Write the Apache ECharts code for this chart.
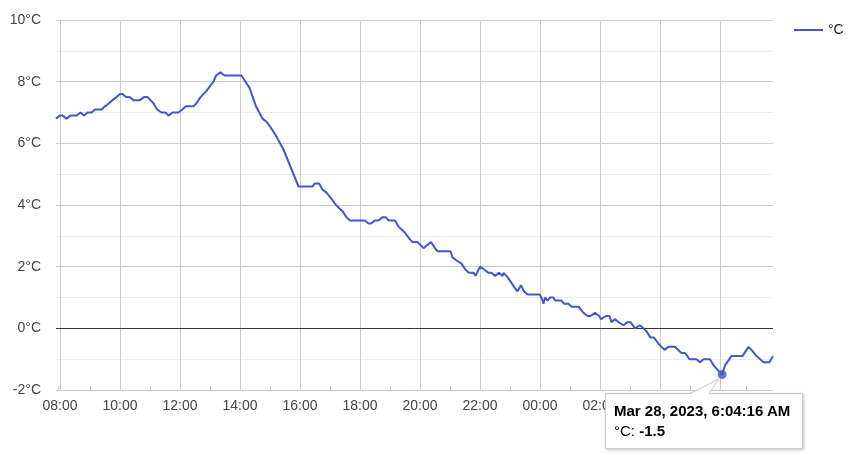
<!DOCTYPE html>
<html>
<head>
<meta charset="utf-8">
<script src="https://cdn.jsdelivr.net/npm/echarts@6/dist/echarts.min.js"></script>
<style>
html,body{margin:0;padding:0;background:#fff;}
#chart{width:848px;height:455px;}
</style>
</head>
<body>
<div id="chart"></div>
<script>
// ---- data ----
var times = [
'2023-03-27 07:52:00','2023-03-27 08:00:00','2023-03-27 08:05:00','2023-03-27 08:13:00','2023-03-27 08:21:00',
'2023-03-27 08:33:00','2023-03-27 08:41:00','2023-03-27 08:48:00','2023-03-27 08:55:00','2023-03-27 09:03:00',
'2023-03-27 09:10:00','2023-03-27 09:23:00','2023-03-27 09:30:00','2023-03-27 09:38:00','2023-03-27 09:45:00',
'2023-03-27 09:53:00','2023-03-27 10:00:00','2023-03-27 10:05:00','2023-03-27 10:12:00','2023-03-27 10:19:00',
'2023-03-27 10:27:00','2023-03-27 10:40:00','2023-03-27 10:48:00','2023-03-27 10:55:00','2023-03-27 11:07:00',
'2023-03-27 11:14:00','2023-03-27 11:23:00','2023-03-27 11:31:00','2023-03-27 11:37:00','2023-03-27 11:45:00',
'2023-03-27 11:57:00','2023-03-27 12:12:00','2023-03-27 12:27:00','2023-03-27 12:33:00','2023-03-27 12:41:00',
'2023-03-27 12:53:00','2023-03-27 13:07:00','2023-03-27 13:12:00','2023-03-27 13:21:00','2023-03-27 13:29:00',
'2023-03-27 14:03:00','2023-03-27 14:19:00','2023-03-27 14:32:00','2023-03-27 14:45:00','2023-03-27 14:53:00',
'2023-03-27 15:02:00','2023-03-27 15:10:00','2023-03-27 15:27:00','2023-03-27 15:57:00','2023-03-27 16:25:00',
'2023-03-27 16:30:00','2023-03-27 16:38:00','2023-03-27 16:45:00','2023-03-27 16:53:00','2023-03-27 17:03:00',
'2023-03-27 17:12:00','2023-03-27 17:25:00','2023-03-27 17:33:00','2023-03-27 17:40:00','2023-03-27 18:10:00',
'2023-03-27 18:17:00','2023-03-27 18:22:00','2023-03-27 18:30:00','2023-03-27 18:37:00','2023-03-27 18:45:00',
'2023-03-27 18:52:00','2023-03-27 18:57:00','2023-03-27 19:10:00','2023-03-27 19:17:00','2023-03-27 19:30:00',
'2023-03-27 19:39:00','2023-03-27 19:45:00','2023-03-27 19:55:00','2023-03-27 20:07:00','2023-03-27 20:22:00',
'2023-03-27 20:30:00','2023-03-27 20:35:00','2023-03-27 21:01:00','2023-03-27 21:05:00','2023-03-27 21:13:00',
'2023-03-27 21:23:00','2023-03-27 21:31:00','2023-03-27 21:38:00','2023-03-27 21:47:00','2023-03-27 21:51:00',
'2023-03-27 22:00:00','2023-03-27 22:09:00','2023-03-27 22:17:00','2023-03-27 22:23:00','2023-03-27 22:30:00',
'2023-03-27 22:38:00','2023-03-27 22:42:00','2023-03-27 22:45:00','2023-03-27 22:47:00','2023-03-27 22:53:00',
'2023-03-27 23:02:00','2023-03-27 23:10:00','2023-03-27 23:15:00','2023-03-27 23:22:00','2023-03-27 23:28:00',
'2023-03-27 23:35:00','2023-03-27 23:59:00','2023-03-28 00:03:00','2023-03-28 00:07:00','2023-03-28 00:10:00',
'2023-03-28 00:15:00','2023-03-28 00:20:00','2023-03-28 00:27:00','2023-03-28 00:30:00','2023-03-28 00:43:00',
'2023-03-28 00:48:00','2023-03-28 00:57:00','2023-03-28 01:03:00','2023-03-28 01:17:00','2023-03-28 01:27:00',
'2023-03-28 01:35:00','2023-03-28 01:41:00','2023-03-28 01:50:00','2023-03-28 01:58:00','2023-03-28 02:02:00',
'2023-03-28 02:12:00','2023-03-28 02:19:00','2023-03-28 02:23:00','2023-03-28 02:30:00','2023-03-28 02:37:00',
'2023-03-28 02:47:00','2023-03-28 02:55:00','2023-03-28 03:01:00','2023-03-28 03:10:00','2023-03-28 03:20:00',
'2023-03-28 03:27:00','2023-03-28 03:33:00','2023-03-28 03:41:00','2023-03-28 03:48:00','2023-03-28 03:57:00',
'2023-03-28 04:09:00','2023-03-28 04:17:00','2023-03-28 04:30:00','2023-03-28 04:43:00','2023-03-28 04:50:00',
'2023-03-28 04:59:00','2023-03-28 05:13:00','2023-03-28 05:20:00','2023-03-28 05:27:00','2023-03-28 05:40:00',
'2023-03-28 05:47:00','2023-03-28 06:04:16','2023-03-28 06:10:00','2023-03-28 06:23:00','2023-03-28 06:45:00',
'2023-03-28 06:57:00','2023-03-28 07:03:00','2023-03-28 07:13:00','2023-03-28 07:27:00','2023-03-28 07:39:00',
'2023-03-28 07:46:00'
];
var temps = [
6.8,6.9,6.9,6.8,6.9,
6.9,7.0,6.9,7.0,7.0,
7.1,7.1,7.2,7.3,7.4,
7.5,7.6,7.6,7.5,7.5,
7.4,7.4,7.5,7.5,7.3,
7.1,7.0,7.0,6.9,7.0,
7.0,7.2,7.2,7.3,7.5,
7.7,8.0,8.2,8.3,8.2,
8.2,7.8,7.2,6.8,6.7,
6.5,6.3,5.8,4.6,4.6,
4.7,4.7,4.5,4.4,4.2,
4.0,3.8,3.6,3.5,3.5,
3.4,3.4,3.5,3.5,3.6,
3.6,3.5,3.5,3.3,3.1,
2.9,2.8,2.8,2.6,2.8,
2.6,2.5,2.5,2.3,2.2,
2.1,1.9,1.8,1.8,1.7,
2.0,1.9,1.8,1.8,1.7,
1.8,1.8,1.7,1.8,1.7,
1.5,1.3,1.2,1.4,1.2,
1.1,1.1,1.0,0.8,1.0,
0.9,1.0,1.0,0.9,0.9,
0.8,0.8,0.7,0.7,0.5,
0.4,0.4,0.5,0.4,0.3,
0.4,0.4,0.2,0.3,0.2,
0.1,0.2,0.2,0.0,0.1,
0.0,-0.1,-0.3,-0.3,-0.5,
-0.7,-0.6,-0.6,-0.8,-0.8,
-1.0,-1.0,-1.1,-1.0,-1.0,
-1.2,-1.5,-1.2,-0.9,-0.9,
-0.6,-0.7,-0.9,-1.1,-1.1,
-0.9
];
var seriesName = '°C';
var yTicks = [-2, 0, 2, 4, 6, 8, 10];
var tooltipTime = '2023-03-28 06:04:16';

// ---- helpers ----
function parseT(s) {
  var p = s.split(/[- :]/).map(Number);
  return new Date(p[0], p[1] - 1, p[2], p[3], p[4], p[5] || 0).getTime();
}
function pad(n) { return (n < 10 ? '0' : '') + n; }
var MONTHS = ['Jan','Feb','Mar','Apr','May','Jun','Jul','Aug','Sep','Oct','Nov','Dec'];
function fmtFull(ts) {
  var d = new Date(ts);
  var h = d.getHours(), ap = h < 12 ? 'AM' : 'PM';
  var h12 = h % 12; if (h12 === 0) h12 = 12;
  return MONTHS[d.getMonth()] + ' ' + d.getDate() + ', ' + d.getFullYear() + ', ' +
    h12 + ':' + pad(d.getMinutes()) + ':' + pad(d.getSeconds()) + ' ' + ap;
}

var lineData = times.map(function (t, i) { return [parseT(t), temps[i]]; });
var tipIndex = times.indexOf(tooltipTime);
var tipPoint = lineData[tipIndex];

var FONT = '"Liberation Sans", Arial, sans-serif';
var COLOR = '#4557cc';

var tail = '<svg width="40" height="19" style="position:absolute;left:83px;top:-17px;overflow:visible;">' +
  '<polygon points="1,17.5 30,2 20,17.5" fill="#fff" stroke="none"/>' +
  '<path d="M1,16.5 L30,2 L20,16.5" fill="none" stroke="#c4c4c4" stroke-width="1"/></svg>';

var chart = echarts.init(document.getElementById('chart'), null, { renderer: 'canvas' });
chart.setOption({
  animation: false,
  textStyle: { fontFamily: FONT },
  grid: { left: 56, right: 75, top: 20, bottom: 65, containLabel: false },
  legend: {
    data: [seriesName],
    left: 789, top: 18,
    icon: 'rect', itemWidth: 29, itemHeight: 2, itemGap: 8,
    textStyle: { color: '#222', fontSize: 14, fontFamily: FONT },
    selectedMode: false
  },
  tooltip: {
    trigger: 'item',
    alwaysShowContent: true,
    transitionDuration: 0,
    showDelay: 0,
    backgroundColor: '#fff',
    borderColor: '#ccc',
    borderWidth: 1,
    borderRadius: 0,
    padding: [7, 12, 7, 8],
    extraCssText: 'box-shadow: 1px 1px 3px rgba(0,0,0,0.25);',
    textStyle: { color: '#000', fontSize: 15, fontFamily: FONT },
    position: function (pt) { return [pt[0] - 117, pt[1] + 18]; },
    formatter: function (p) {
      return tail + '<div style="font-weight:bold;line-height:20px;">' + fmtFull(p.value[0]) + '</div>' +
        '<div style="line-height:20px;">' + seriesName + ': <b>' + p.value[1] + '</b></div>';
    }
  },
  xAxis: {
    type: 'time',
    min: lineData[0][0],
    max: lineData[lineData.length - 1][0],
    minInterval: 2.4 * 3600 * 1000,
    maxInterval: 2.4 * 3600 * 1000,
    axisLine: { show: false, onZero: false },
    axisTick: { show: false, inside: true },
    minorTick: { show: true, splitNumber: 2, length: 4, lineStyle: { color: '#ccc' } },
    splitLine: { show: true, showMinLine: false, showMaxLine: false, lineStyle: { color: '#cccccc', width: 1 } },
    axisLabel: {
      color: '#444', fontSize: 14, fontFamily: FONT, margin: 9,
      showMinLabel: false, showMaxLabel: false, hideOverlap: false,
      formatter: function (v) { var d = new Date(v); return pad(d.getHours()) + ':' + pad(d.getMinutes()); }
    }
  },
  yAxis: {
    type: 'value',
    min: yTicks[0], max: yTicks[yTicks.length - 1], interval: 2,
    axisLine: { show: false },
    axisTick: { show: false },
    splitLine: { show: true, lineStyle: { color: '#cccccc', width: 1 } },
    minorTick: { show: false, splitNumber: 2 },
    minorSplitLine: { show: true, lineStyle: { color: '#ebebeb', width: 1 } },
    axisLabel: { color: '#444', fontSize: 14, fontFamily: FONT, margin: 15, formatter: '{value}°C' }
  },
  series: [
    {
      name: seriesName,
      type: 'line',
      data: lineData,
      showSymbol: false,
      symbol: 'none',
      color: COLOR,
      lineStyle: { color: COLOR, width: 2 },
      silent: true,
      z: 3,
      markLine: {
        silent: true,
        symbol: ['none', 'none'],
        label: { show: false },
        lineStyle: { color: '#333', width: 1, type: 'solid' },
        emphasis: { disabled: true },
        data: [{ yAxis: 0 }],
        z: 2
      }
    },
    {
      name: 'tip',
      type: 'scatter',
      data: [tipPoint],
      symbolSize: 9,
      itemStyle: { color: COLOR, shadowBlur: 0 },
      emphasis: { scale: false },
      z: 4
    }
  ]
});
chart.dispatchAction({ type: 'showTip', seriesIndex: 1, dataIndex: 0 });
</script>
</body>
</html>
